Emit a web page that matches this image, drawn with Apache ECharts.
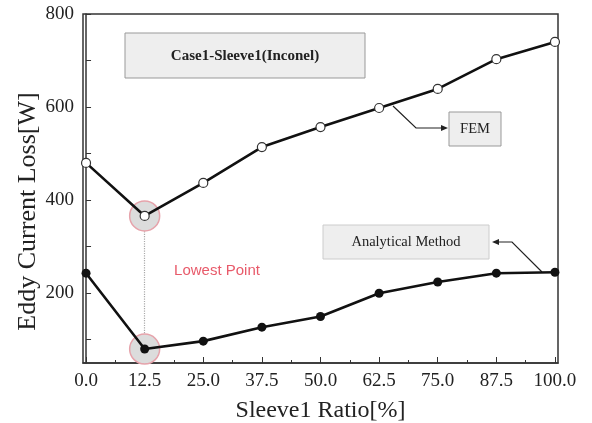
<!DOCTYPE html>
<html>
<head>
  <meta charset="utf-8">
  <script src="https://cdn.jsdelivr.net/npm/echarts@6/dist/echarts.min.js"></script>
  <style>
    body { margin: 0; background: #fff; }
    #chart { width: 592px; height: 423px; }
  </style>
</head>
<body>
  <div id="chart"></div>
  <script>
    var ratios = [0, 12.5, 25, 37.5, 50, 62.5, 75, 87.5, 100];
    var femLoss = [480, 366, 437, 514, 557, 598, 639, 703, 740];
    var analyticLoss = [243, 80, 97, 127, 150, 200, 224, 243, 245];
    var xLabelTicks = [0, 12.5, 25, 37.5, 50, 62.5, 75, 87.5, 100];
    var xMinorTicks = [6.25, 18.75, 31.25, 43.75, 56.25, 68.75, 81.25, 93.75];
    var yLabelTicks = [200, 400, 600, 800];
    var yMinorTicks = [100, 200, 300, 400, 500, 600, 700, 800];

    function pairs(xs, ys) {
      return xs.map(function (x, i) { return [x, ys[i]]; });
    }

    var serif = '"Liberation Serif", "DejaVu Serif", serif';
    var chart = echarts.init(document.getElementById('chart'));
    var option = {
      backgroundColor: '#fff',
      animation: false,
      grid: { left: 83, right: 34, top: 14, bottom: 60, show: true, borderColor: '#333', borderWidth: 1.5,
        outerBoundsMode: 'none', containLabel: false },
      xAxis: [{
        type: 'value', min: -0.65, max: 100.65,
        name: 'Sleeve1 Ratio[%]', nameLocation: 'middle', nameGap: 36,
        nameTextStyle: { fontFamily: serif, fontSize: 24, color: '#222' },
        axisLine: { lineStyle: { color: '#333', width: 1.5 } },
        axisTick: { inside: true, length: 6, customValues: xLabelTicks, lineStyle: { color: '#333' } },
        axisLabel: { fontFamily: serif, fontSize: 19, color: '#222', margin: 9, customValues: xLabelTicks,
          formatter: function (v) { return v.toFixed(1); } },
        splitLine: { show: false }
      }, {
        type: 'value', min: -0.65, max: 100.65, position: 'bottom',
        axisLine: { show: false },
        axisTick: { show: true, inside: true, length: 3, customValues: xMinorTicks, lineStyle: { color: '#333' } },
        axisLabel: { show: false },
        splitLine: { show: false }
      }],
      yAxis: {
        type: 'value', min: 50, max: 800,
        name: 'Eddy Current Loss[W]', nameLocation: 'middle', nameGap: 42, nameMoveOverlap: false,
        nameTextStyle: { fontFamily: serif, fontSize: 26, color: '#222', padding: [0, 46, 0, 0] },
        axisLine: { show: true, lineStyle: { color: '#333', width: 1.5 } },
        axisTick: { show: true, inside: true, length: 5, customValues: yMinorTicks, lineStyle: { color: '#333' } },
        axisLabel: { fontFamily: serif, fontSize: 19, color: '#222', margin: 9, customValues: yLabelTicks },
        splitLine: { show: false }
      },
      series: [
        {
          name: 'FEM', type: 'line', data: pairs(ratios, femLoss),
          symbol: 'circle', symbolSize: 9,
          lineStyle: { color: '#111', width: 2.6 },
          itemStyle: { color: '#fff', borderColor: '#333', borderWidth: 1.2 },
          z: 3,
          markPoint: {
            symbol: 'circle', symbolSize: 30, silent: true, z: 1,
            itemStyle: { color: '#dcdcdc', borderColor: '#e6a3ab', borderWidth: 1.5 },
            label: { show: false },
            data: [{ coord: [ratios[1], femLoss[1]] }, { coord: [ratios[1], analyticLoss[1]] }]
          },
          markLine: {
            symbol: 'none', silent: true, z: 1,
            lineStyle: { color: '#aaa', type: 'dotted', width: 1.2 },
            label: { show: false },
            data: [[{ coord: [ratios[1], femLoss[1] - 33] }, { coord: [ratios[1], analyticLoss[1] + 33] }]]
          }
        },
        {
          name: 'Analytical Method', type: 'line', data: pairs(ratios, analyticLoss),
          symbol: 'circle', symbolSize: 9,
          lineStyle: { color: '#111', width: 2.6 },
          itemStyle: { color: '#111' },
          z: 3
        }
      ],
      graphic: [
        { type: 'rect', shape: { x: 125, y: 33, width: 240, height: 45 },
          style: { fill: '#eeeeee', stroke: '#999', lineWidth: 1 } },
        { type: 'text', x: 245, y: 56, style: { text: 'Case1-Sleeve1(Inconel)', fontFamily: serif, fontWeight: 'bold',
          fontSize: 15, fill: '#222', align: 'center', verticalAlign: 'middle' } },
        { type: 'rect', shape: { x: 449, y: 112, width: 52, height: 34 },
          style: { fill: '#eeeeee', stroke: '#999', lineWidth: 1 } },
        { type: 'text', x: 475, y: 129, style: { text: 'FEM', fontFamily: serif, fontSize: 14.5, fill: '#222',
          align: 'center', verticalAlign: 'middle' } },
        { type: 'polyline', shape: { points: [[393, 106], [416, 128], [444, 128]] },
          style: { stroke: '#222', lineWidth: 1.2, fill: null } },
        { type: 'polygon', shape: { points: [[448, 128], [441, 125], [441, 131]] }, style: { fill: '#222' } },
        { type: 'rect', shape: { x: 323, y: 225, width: 166, height: 34 },
          style: { fill: '#eeeeee', stroke: '#ccc', lineWidth: 1 } },
        { type: 'text', x: 406, y: 242, style: { text: 'Analytical Method', fontFamily: serif, fontSize: 14.5, fill: '#222',
          align: 'center', verticalAlign: 'middle' } },
        { type: 'polyline', shape: { points: [[542, 272], [512, 242], [496, 242]] },
          style: { stroke: '#222', lineWidth: 1.2, fill: null } },
        { type: 'polygon', shape: { points: [[492, 242], [499, 239], [499, 245]] }, style: { fill: '#222' } },
        { type: 'text', x: 217, y: 271, style: { text: 'Lowest Point', fontFamily: 'Arial, "Liberation Sans", sans-serif',
          fontSize: 15, fill: '#e85a6a', align: 'center', verticalAlign: 'middle' } }
      ]
    };
    chart.setOption(option);
  </script>
</body>
</html>
